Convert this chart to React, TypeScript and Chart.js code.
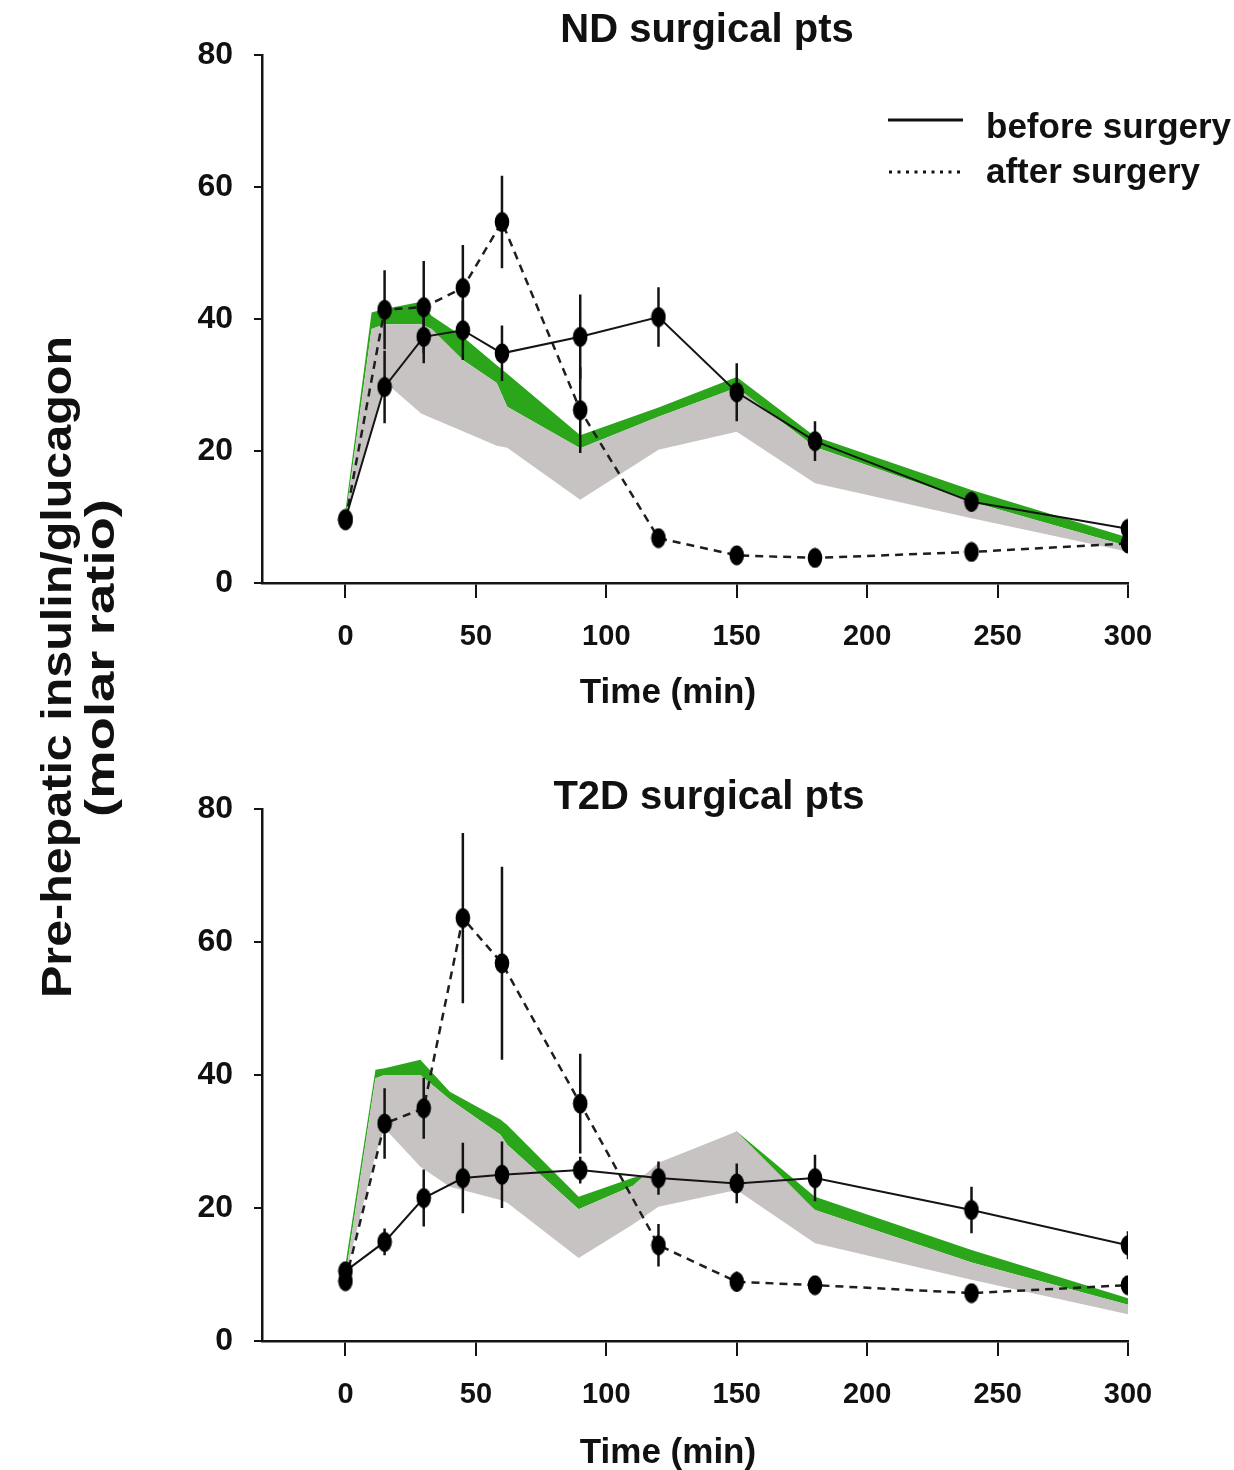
import React, { useEffect, useRef } from 'react';
import { Chart, registerables } from 'chart.js';

Chart.register(...registerables);

// ---------- data ----------
const TIMES = [0, 15, 30, 45, 60, 90, 120, 150, 180, 240, 300];
const X_TICKS = [0, 50, 100, 150, 200, 250, 300];
const Y_TICKS = [0, 20, 40, 60, 80];

// ND surgical patients
const ND_BEFORE = [9.7, 29.7, 37.3, 38.3, 34.8, 37.3, 40.3, 28.9, 21.5, 12.3, 8.2];
const ND_BEFORE_ERR = [1.2, 5.5, 4.0, 4.5, 4.2, 6.4, 4.5, 4.4, 3.0, 1.5, 1.2];
const ND_AFTER = [9.5, 41.4, 41.8, 44.7, 54.7, 26.2, 6.8, 4.2, 3.8, 4.7, 6.0];
const ND_AFTER_ERR = [1.2, 6.0, 7.0, 6.5, 7.0, 6.5, 1.0, 1.0, 0.8, 1.0, 1.0];

const ND_BAND_X = [0, 10, 15, 29, 33, 45, 58, 62, 90, 120, 150, 180, 240, 305];
const ND_GREEN_HI = [11, 41, 41.5, 42.6, 40.5, 37.3, 33, 31.7, 22.4, 26.6, 31.2, 22.2, 14.1, 6.3];
const ND_GREEN_LO = [9.8, 38.5, 39.2, 39.2, 38.5, 33.8, 30.3, 26.7, 20.4, 25.2, 29.6, 20.6, 12.3, 5.0];
const ND_GREY_HI = [9.8, 38.5, 39.2, 39.2, 38.5, 33.8, 30.3, 26.7, 20.4, 25.2, 29.6, 20.6, 12.3, 5.0];
const ND_GREY_LO = [9.8, 23, 30.5, 25.7, 25, 23, 20.8, 20.5, 12.6, 20.2, 22.9, 15.1, 9.8, 4.3];

// T2D surgical patients
const T2D_BEFORE = [10.5, 14.9, 21.5, 24.5, 25.0, 25.7, 24.5, 23.7, 24.5, 19.7, 14.4];
const T2D_BEFORE_ERR = [1.0, 2.0, 4.3, 5.3, 5.0, 2.0, 2.5, 3.0, 3.5, 3.5, 2.1];
const T2D_AFTER = [9.0, 32.7, 35.0, 63.6, 56.8, 35.7, 14.4, 8.9, 8.4, 7.2, 8.4];
const T2D_AFTER_ERR = [1.0, 5.3, 4.6, 12.8, 14.5, 7.5, 3.2, 1.5, 1.0, 1.0, 1.0];

const T2D_BAND_X = [0, 11.5, 15, 28.7, 40, 59.4, 62, 89.4, 110, 120, 150, 180, 240, 306];
const T2D_GREEN_HI = [11.5, 40.8, 41, 42.3, 37.5, 33.3, 32.5, 21.7, 24.5, 25.5, 31.5, 21.7, 13.7, 5.7];
const T2D_GREEN_LO = [9.8, 39.5, 40, 40, 36.3, 31, 29.5, 19.8, 23.3, 24.5, 29.5, 19.7, 11.8, 4.8];
const T2D_GREY_HI = [9.8, 39.5, 40, 40, 36.3, 31, 29.5, 19.8, 23.3, 26.8, 31.5, 19.7, 11.8, 4.8];
const T2D_GREY_LO = [9.8, 28, 32, 26.2, 23.2, 21.2, 20.8, 12.5, 17.5, 20.2, 22.7, 14.7, 9.2, 3.5];

// ---------- styling ----------
const FONT = "'Liberation Sans', Arial, Helvetica, sans-serif";
const INK = '#141414';
const GREEN = '#2ba61b';
const GREY = '#c8c3c3';

type P = { x: number; y: number | null };

function pts(xs: number[], ys: number[]): P[] {
  return xs.map((x, i) => ({ x, y: ys[i] }));
}

function errPts(vals: number[], errs: number[]): P[] {
  const out: P[] = [];
  TIMES.forEach((t, i) => {
    out.push({ x: t, y: vals[i] - errs[i] });
    out.push({ x: t, y: vals[i] + errs[i] });
    out.push({ x: t, y: null });
  });
  return out;
}

function makeDot(): HTMLCanvasElement {
  const c = document.createElement('canvas');
  c.width = 16;
  c.height = 21;
  const ctx = c.getContext('2d')!;
  ctx.fillStyle = '#000';
  ctx.beginPath();
  ctx.ellipse(8, 10.5, 7.3, 10, 0, 0, Math.PI * 2);
  ctx.fill();
  return c;
}

type PanelData = {
  before: number[];
  beforeErr: number[];
  after: number[];
  afterErr: number[];
  bandX: number[];
  gHi: number[];
  gLo: number[];
  rHi: number[];
  rLo: number[];
};

function makeConfig(d: PanelData, padTop: number, padBottom: number, dot: HTMLCanvasElement): any {
  const band = (ys: number[], fill: any, color: string, order: number) => ({
    data: pts(d.bandX, ys),
    borderWidth: 0,
    borderColor: 'rgba(0,0,0,0)',
    backgroundColor: color,
    pointRadius: 0,
    fill,
    tension: 0,
    order,
    clip: false,
  });
  return {
    type: 'line',
    data: {
      datasets: [
        {
          label: 'before surgery',
          data: pts(TIMES, d.before),
          borderColor: INK,
          borderWidth: 2,
          pointStyle: dot,
          pointRadius: 7,
          fill: false,
          order: 0,
        },
        {
          label: 'after surgery',
          data: pts(TIMES, d.after),
          borderColor: '#1e1e1e',
          borderWidth: 2.5,
          borderDash: [8, 6],
          pointStyle: dot,
          pointRadius: 7,
          fill: false,
          order: 1,
        },
        {
          label: 'before SEM',
          data: errPts(d.before, d.beforeErr),
          borderColor: INK,
          borderWidth: 2.5,
          pointRadius: 0,
          spanGaps: false,
          fill: false,
          order: 2,
        },
        {
          label: 'after SEM',
          data: errPts(d.after, d.afterErr),
          borderColor: INK,
          borderWidth: 2.5,
          pointRadius: 0,
          spanGaps: false,
          fill: false,
          order: 3,
        },
        band(d.rHi, '+1', GREY, 5),
        band(d.rLo, false, GREY, 6),
        band(d.gHi, '+1', GREEN, 7),
        band(d.gLo, false, GREEN, 8),
      ],
    },
    options: {
      animation: false,
      responsive: false,
      maintainAspectRatio: false,
      devicePixelRatio: 1,
      events: [],
      layout: { padding: { left: 0, right: 106, top: padTop, bottom: padBottom } },
      plugins: {
        legend: { display: false },
        title: { display: false },
        tooltip: { enabled: false },
      },
      scales: {
        x: {
          type: 'linear',
          min: -32,
          max: 300,
          afterBuildTicks: (s: any) => {
            s.ticks = X_TICKS.map((v) => ({ value: v }));
          },
          afterFit: (s: any) => {
            s.height = 70;
          },
          grid: {
            display: true,
            drawOnChartArea: false,
            drawTicks: true,
            tickLength: 15,
            color: INK,
            lineWidth: 2,
          },
          border: { display: true, color: INK, width: 2.5 },
          ticks: {
            font: { family: FONT, size: 29, weight: 'bold' },
            color: '#111',
            padding: 22,
            maxRotation: 0,
            autoSkip: false,
          },
        },
        y: {
          type: 'linear',
          min: 0,
          max: 80,
          afterBuildTicks: (s: any) => {
            s.ticks = Y_TICKS.map((v) => ({ value: v }));
          },
          afterFit: (s: any) => {
            s.width = 122;
          },
          grid: {
            display: true,
            drawOnChartArea: false,
            drawTicks: true,
            tickLength: 8,
            color: INK,
            lineWidth: 2,
          },
          border: { display: true, color: INK, width: 2.5 },
          ticks: {
            font: { family: FONT, size: 32, weight: 'bold' },
            color: '#111',
            padding: 21,
          },
        },
      },
    },
  };
}

const ND: PanelData = {
  before: ND_BEFORE,
  beforeErr: ND_BEFORE_ERR,
  after: ND_AFTER,
  afterErr: ND_AFTER_ERR,
  bandX: ND_BAND_X,
  gHi: ND_GREEN_HI,
  gLo: ND_GREEN_LO,
  rHi: ND_GREY_HI,
  rLo: ND_GREY_LO,
};

const T2D: PanelData = {
  before: T2D_BEFORE,
  beforeErr: T2D_BEFORE_ERR,
  after: T2D_AFTER,
  afterErr: T2D_AFTER_ERR,
  bandX: T2D_BAND_X,
  gHi: T2D_GREEN_HI,
  gLo: T2D_GREEN_LO,
  rHi: T2D_GREY_HI,
  rLo: T2D_GREY_LO,
};

const CANVAS_LEFT = 140;
const CANVAS_W = 1094;

function Panel(props: { data: PanelData; top: number; height: number; padTop: number; padBottom: number }) {
  const ref = useRef<HTMLCanvasElement | null>(null);
  useEffect(() => {
    if (!ref.current) return;
    const dot = makeDot();
    const chart = new Chart(ref.current, makeConfig(props.data, props.padTop, props.padBottom, dot));
    return () => chart.destroy();
  }, []);
  return (
    <canvas
      ref={ref}
      width={CANVAS_W}
      height={props.height}
      style={{
        position: 'absolute',
        left: CANVAS_LEFT,
        top: props.top,
        width: CANVAS_W,
        height: props.height,
      }}
    />
  );
}

function CenterText(props: { text: string; cx: number; cy: number; size: number }) {
  return (
    <div
      style={{
        position: 'absolute',
        left: props.cx - 400,
        width: 800,
        top: props.cy - props.size / 2,
        height: props.size,
        lineHeight: `${props.size}px`,
        fontSize: props.size,
        fontFamily: FONT,
        fontWeight: 'bold',
        textAlign: 'center',
        whiteSpace: 'nowrap',
        color: '#111',
      }}
    >
      {props.text}
    </div>
  );
}

function LeftText(props: { text: string; x: number; cy: number; size: number }) {
  return (
    <div
      style={{
        position: 'absolute',
        left: props.x,
        top: props.cy - props.size / 2,
        height: props.size,
        lineHeight: `${props.size}px`,
        fontSize: props.size,
        fontFamily: FONT,
        fontWeight: 'bold',
        whiteSpace: 'nowrap',
        color: '#111',
      }}
    >
      {props.text}
    </div>
  );
}

export default function App() {
  return (
    <div
      style={{
        position: 'relative',
        width: 1234,
        height: 1470,
        overflow: 'hidden',
        background: '#fff',
      }}
    >
      <style>{'html,body{margin:0;padding:0;background:#fff;}'}</style>
      <Panel data={ND} top={0} height={720} padTop={55} padBottom={67} />
      <Panel data={T2D} top={740} height={730} padTop={69} padBottom={59} />

      <CenterText text="ND surgical pts" cx={707} cy={28} size={40} />
      <CenterText text="T2D surgical pts" cx={709} cy={795} size={40} />
      <CenterText text="Time (min)" cx={668} cy={690} size={35} />
      <CenterText text="Time (min)" cx={668} cy={1450} size={35} />

      <svg
        width={1234}
        height={1470}
        style={{ position: 'absolute', left: 0, top: 0, pointerEvents: 'none' }}
      >
        <line x1={888} y1={120} x2={963} y2={120} stroke="#111" strokeWidth={3} />
        <line
          x1={889}
          y1={172}
          x2={963}
          y2={172}
          stroke="#111"
          strokeWidth={3}
          strokeDasharray="3 5.5"
        />
        <text
          x={71}
          y={667}
          transform="rotate(-90 71 667)"
          textAnchor="middle"
          fontFamily={FONT}
          fontWeight="bold"
          fontSize={43}
          fill="#111"
          textLength={662}
          lengthAdjust="spacingAndGlyphs"
        >
          Pre-hepatic insulin/glucagon
        </text>
        <text
          x={114}
          y={658}
          transform="rotate(-90 114 658)"
          textAnchor="middle"
          fontFamily={FONT}
          fontWeight="bold"
          fontSize={41}
          fill="#111"
          textLength={318}
          lengthAdjust="spacingAndGlyphs"
        >
          (molar ratio)
        </text>
      </svg>

      <LeftText text="before surgery" x={986} cy={125} size={35} />
      <LeftText text="after surgery" x={986} cy={170} size={35} />
    </div>
  );
}
